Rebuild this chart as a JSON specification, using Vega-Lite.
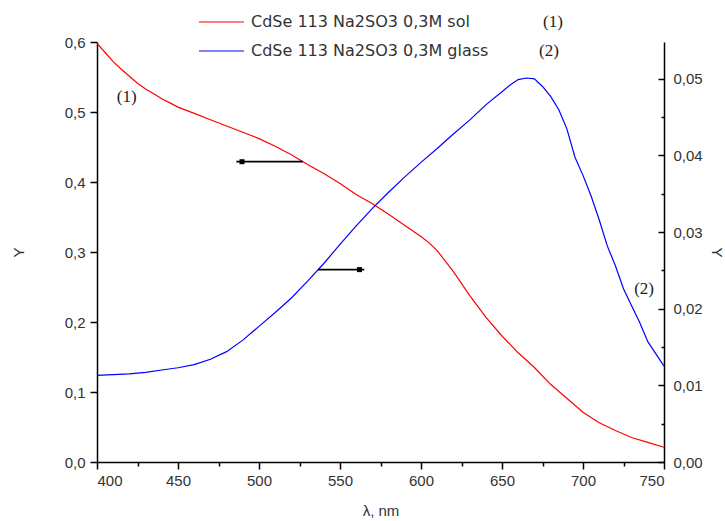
{
  "$schema": "https://vega.github.io/schema/vega-lite/v6.json",
  "width": 567,
  "height": 420,
  "autosize": "none",
  "padding": {"left": 97, "top": 42, "right": 61, "bottom": 59},
  "background": "white",
  "config": {
    "view": {"stroke": null},
    "font": "Liberation Sans",
    "axis": {
      "domainColor": "#000000",
      "domainWidth": 1.5,
      "tickColor": "#000000",
      "tickWidth": 1.5,
      "grid": false,
      "labelFont": "Liberation Sans",
      "labelFontSize": 15,
      "labelColor": "#333333",
      "titleFont": "Liberation Sans",
      "titleFontSize": 15,
      "titleFontWeight": "normal",
      "titleColor": "#333333"
    }
  },
  "datasets": {
    "curves": [
      {"nm": 400, "v": 0.598, "series": "CdSe 113 Na2SO3 0,3M sol"},
      {"nm": 405, "v": 0.585, "series": "CdSe 113 Na2SO3 0,3M sol"},
      {"nm": 410, "v": 0.572, "series": "CdSe 113 Na2SO3 0,3M sol"},
      {"nm": 415, "v": 0.561, "series": "CdSe 113 Na2SO3 0,3M sol"},
      {"nm": 420, "v": 0.551, "series": "CdSe 113 Na2SO3 0,3M sol"},
      {"nm": 425, "v": 0.541, "series": "CdSe 113 Na2SO3 0,3M sol"},
      {"nm": 430, "v": 0.533, "series": "CdSe 113 Na2SO3 0,3M sol"},
      {"nm": 435, "v": 0.526, "series": "CdSe 113 Na2SO3 0,3M sol"},
      {"nm": 440, "v": 0.519, "series": "CdSe 113 Na2SO3 0,3M sol"},
      {"nm": 445, "v": 0.513, "series": "CdSe 113 Na2SO3 0,3M sol"},
      {"nm": 450, "v": 0.507, "series": "CdSe 113 Na2SO3 0,3M sol"},
      {"nm": 460, "v": 0.498, "series": "CdSe 113 Na2SO3 0,3M sol"},
      {"nm": 470, "v": 0.489, "series": "CdSe 113 Na2SO3 0,3M sol"},
      {"nm": 480, "v": 0.480, "series": "CdSe 113 Na2SO3 0,3M sol"},
      {"nm": 490, "v": 0.471, "series": "CdSe 113 Na2SO3 0,3M sol"},
      {"nm": 500, "v": 0.462, "series": "CdSe 113 Na2SO3 0,3M sol"},
      {"nm": 510, "v": 0.451, "series": "CdSe 113 Na2SO3 0,3M sol"},
      {"nm": 520, "v": 0.439, "series": "CdSe 113 Na2SO3 0,3M sol"},
      {"nm": 530, "v": 0.425, "series": "CdSe 113 Na2SO3 0,3M sol"},
      {"nm": 540, "v": 0.412, "series": "CdSe 113 Na2SO3 0,3M sol"},
      {"nm": 550, "v": 0.398, "series": "CdSe 113 Na2SO3 0,3M sol"},
      {"nm": 560, "v": 0.382, "series": "CdSe 113 Na2SO3 0,3M sol"},
      {"nm": 570, "v": 0.369, "series": "CdSe 113 Na2SO3 0,3M sol"},
      {"nm": 580, "v": 0.354, "series": "CdSe 113 Na2SO3 0,3M sol"},
      {"nm": 590, "v": 0.338, "series": "CdSe 113 Na2SO3 0,3M sol"},
      {"nm": 600, "v": 0.322, "series": "CdSe 113 Na2SO3 0,3M sol"},
      {"nm": 605, "v": 0.313, "series": "CdSe 113 Na2SO3 0,3M sol"},
      {"nm": 610, "v": 0.302, "series": "CdSe 113 Na2SO3 0,3M sol"},
      {"nm": 620, "v": 0.272, "series": "CdSe 113 Na2SO3 0,3M sol"},
      {"nm": 630, "v": 0.238, "series": "CdSe 113 Na2SO3 0,3M sol"},
      {"nm": 640, "v": 0.207, "series": "CdSe 113 Na2SO3 0,3M sol"},
      {"nm": 650, "v": 0.180, "series": "CdSe 113 Na2SO3 0,3M sol"},
      {"nm": 660, "v": 0.156, "series": "CdSe 113 Na2SO3 0,3M sol"},
      {"nm": 670, "v": 0.135, "series": "CdSe 113 Na2SO3 0,3M sol"},
      {"nm": 680, "v": 0.111, "series": "CdSe 113 Na2SO3 0,3M sol"},
      {"nm": 690, "v": 0.091, "series": "CdSe 113 Na2SO3 0,3M sol"},
      {"nm": 700, "v": 0.071, "series": "CdSe 113 Na2SO3 0,3M sol"},
      {"nm": 710, "v": 0.056, "series": "CdSe 113 Na2SO3 0,3M sol"},
      {"nm": 720, "v": 0.045, "series": "CdSe 113 Na2SO3 0,3M sol"},
      {"nm": 730, "v": 0.035, "series": "CdSe 113 Na2SO3 0,3M sol"},
      {"nm": 740, "v": 0.028, "series": "CdSe 113 Na2SO3 0,3M sol"},
      {"nm": 750, "v": 0.021, "series": "CdSe 113 Na2SO3 0,3M sol"},
      {"nm": 400, "v": 0.0113, "series": "CdSe 113 Na2SO3 0,3M glass"},
      {"nm": 410, "v": 0.0114, "series": "CdSe 113 Na2SO3 0,3M glass"},
      {"nm": 420, "v": 0.0115, "series": "CdSe 113 Na2SO3 0,3M glass"},
      {"nm": 430, "v": 0.0117, "series": "CdSe 113 Na2SO3 0,3M glass"},
      {"nm": 440, "v": 0.0120, "series": "CdSe 113 Na2SO3 0,3M glass"},
      {"nm": 450, "v": 0.0123, "series": "CdSe 113 Na2SO3 0,3M glass"},
      {"nm": 460, "v": 0.0127, "series": "CdSe 113 Na2SO3 0,3M glass"},
      {"nm": 470, "v": 0.0134, "series": "CdSe 113 Na2SO3 0,3M glass"},
      {"nm": 480, "v": 0.0144, "series": "CdSe 113 Na2SO3 0,3M glass"},
      {"nm": 490, "v": 0.0159, "series": "CdSe 113 Na2SO3 0,3M glass"},
      {"nm": 500, "v": 0.0177, "series": "CdSe 113 Na2SO3 0,3M glass"},
      {"nm": 510, "v": 0.0195, "series": "CdSe 113 Na2SO3 0,3M glass"},
      {"nm": 520, "v": 0.0214, "series": "CdSe 113 Na2SO3 0,3M glass"},
      {"nm": 530, "v": 0.0236, "series": "CdSe 113 Na2SO3 0,3M glass"},
      {"nm": 540, "v": 0.0259, "series": "CdSe 113 Na2SO3 0,3M glass"},
      {"nm": 550, "v": 0.0284, "series": "CdSe 113 Na2SO3 0,3M glass"},
      {"nm": 560, "v": 0.0308, "series": "CdSe 113 Na2SO3 0,3M glass"},
      {"nm": 570, "v": 0.0331, "series": "CdSe 113 Na2SO3 0,3M glass"},
      {"nm": 580, "v": 0.0352, "series": "CdSe 113 Na2SO3 0,3M glass"},
      {"nm": 590, "v": 0.0372, "series": "CdSe 113 Na2SO3 0,3M glass"},
      {"nm": 600, "v": 0.0391, "series": "CdSe 113 Na2SO3 0,3M glass"},
      {"nm": 610, "v": 0.0409, "series": "CdSe 113 Na2SO3 0,3M glass"},
      {"nm": 620, "v": 0.0428, "series": "CdSe 113 Na2SO3 0,3M glass"},
      {"nm": 630, "v": 0.0446, "series": "CdSe 113 Na2SO3 0,3M glass"},
      {"nm": 640, "v": 0.0466, "series": "CdSe 113 Na2SO3 0,3M glass"},
      {"nm": 650, "v": 0.0483, "series": "CdSe 113 Na2SO3 0,3M glass"},
      {"nm": 655, "v": 0.0492, "series": "CdSe 113 Na2SO3 0,3M glass"},
      {"nm": 660, "v": 0.0499, "series": "CdSe 113 Na2SO3 0,3M glass"},
      {"nm": 665, "v": 0.0501, "series": "CdSe 113 Na2SO3 0,3M glass"},
      {"nm": 670, "v": 0.0500, "series": "CdSe 113 Na2SO3 0,3M glass"},
      {"nm": 675, "v": 0.0490, "series": "CdSe 113 Na2SO3 0,3M glass"},
      {"nm": 680, "v": 0.0477, "series": "CdSe 113 Na2SO3 0,3M glass"},
      {"nm": 685, "v": 0.0460, "series": "CdSe 113 Na2SO3 0,3M glass"},
      {"nm": 690, "v": 0.0435, "series": "CdSe 113 Na2SO3 0,3M glass"},
      {"nm": 695, "v": 0.0398, "series": "CdSe 113 Na2SO3 0,3M glass"},
      {"nm": 700, "v": 0.0374, "series": "CdSe 113 Na2SO3 0,3M glass"},
      {"nm": 705, "v": 0.0347, "series": "CdSe 113 Na2SO3 0,3M glass"},
      {"nm": 710, "v": 0.0316, "series": "CdSe 113 Na2SO3 0,3M glass"},
      {"nm": 715, "v": 0.0282, "series": "CdSe 113 Na2SO3 0,3M glass"},
      {"nm": 720, "v": 0.0256, "series": "CdSe 113 Na2SO3 0,3M glass"},
      {"nm": 725, "v": 0.0226, "series": "CdSe 113 Na2SO3 0,3M glass"},
      {"nm": 730, "v": 0.0204, "series": "CdSe 113 Na2SO3 0,3M glass"},
      {"nm": 735, "v": 0.0182, "series": "CdSe 113 Na2SO3 0,3M glass"},
      {"nm": 740, "v": 0.0157, "series": "CdSe 113 Na2SO3 0,3M glass"},
      {"nm": 745, "v": 0.0141, "series": "CdSe 113 Na2SO3 0,3M glass"},
      {"nm": 750, "v": 0.0125, "series": "CdSe 113 Na2SO3 0,3M glass"}
    ],
    "arrows": [
      {"side": "left", "x1": 486, "x2": 527, "y": 0.429, "sq": 489.5},
      {"side": "right", "x1": 536.5, "x2": 565, "y": 0.0251, "sq": 562}
    ],
    "notes": [
      {"side": "left", "nm": 418.3, "v": 0.522, "label": "(1)"},
      {"side": "left", "nm": 681.5, "v": 0.6286, "label": "(1)"},
      {"side": "left", "nm": 679, "v": 0.587, "label": "(2)"},
      {"side": "right", "nm": 737.7, "v": 0.02255, "label": "(2)"}
    ]
  },
  "layer": [
    {
      "layer": [
        {
          "data": {"name": "curves"},
          "transform": [{"filter": "datum.series === 'CdSe 113 Na2SO3 0,3M sol'"}],
          "mark": {"type": "line", "strokeWidth": 1.2},
          "encoding": {
            "x": {
              "field": "nm", "type": "quantitative", "title": "λ, nm",
              "scale": {"domain": [400, 750], "nice": false, "zero": false},
              "axis": {
                "values": [400, 425, 450, 475, 500, 525, 550, 575, 600, 625, 650, 675, 700, 725, 750],
                "labelExpr": "datum.value % 50 === 0 ? datum.label : ''",
                "tickSize": {"condition": {"test": "datum.value % 50 === 0", "value": 7}, "value": 4},
                "labelPadding": 4,
                "titlePadding": 15
              }
            },
            "y": {
              "field": "v", "type": "quantitative", "title": "Y",
              "scale": {"domain": [0, 0.6], "nice": false},
              "axis": {
                "orient": "left",
                "values": [0, 0.05, 0.1, 0.15, 0.2, 0.25, 0.3, 0.35, 0.4, 0.45, 0.5, 0.55, 0.6],
                "format": ".1f",
                "labelExpr": "abs(datum.value * 10 - round(datum.value * 10)) < 0.01 ? replace(datum.label, '.', ',') : ''",
                "tickSize": {"condition": {"test": "abs(datum.value * 10 - round(datum.value * 10)) < 0.01", "value": 7}, "value": 4},
                "labelPadding": 5,
                "titlePadding": 38
              }
            },
            "color": {
              "field": "series", "type": "nominal",
              "scale": {"domain": ["CdSe 113 Na2SO3 0,3M sol", "CdSe 113 Na2SO3 0,3M glass"], "range": ["#ff0000", "#0000ff"]},
              "legend": {
                "orient": "none",
                "legendX": 101,
                "legendY": -34.5,
                "title": null,
                "symbolType": "stroke",
                "symbolSize": 2025,
                "symbolStrokeWidth": 1.2,
                "labelOffset": 6,
                "labelLimit": 500,
                "labelFont": "DejaVu Sans",
                "labelFontSize": 16,
                "labelColor": "#333333",
                "rowPadding": 0,
                "clipHeight": 29,
                "padding": 0,
                "encode": {
                  "symbols": {
                    "update": {
                      "stroke": {"scale": "color", "field": "value"},
                      "strokeWidth": {"value": 1.2}
                    }
                  }
                }
              }
            }
          }
        },
        {
          "data": {"name": "arrows"},
          "transform": [{"filter": "datum.side === 'left'"}],
          "mark": {"type": "rule", "color": "#000000", "strokeWidth": 1.8},
          "encoding": {
            "x": {"field": "x1", "type": "quantitative", "title": "λ, nm"},
            "x2": {"field": "x2"},
            "y": {"field": "y", "type": "quantitative", "title": "Y"}
          }
        },
        {
          "data": {"name": "arrows"},
          "transform": [{"filter": "datum.side === 'left'"}],
          "mark": {"type": "point", "shape": "square", "filled": true, "color": "#000000", "size": 25, "opacity": 1},
          "encoding": {
            "x": {"field": "sq", "type": "quantitative", "title": "λ, nm"},
            "y": {"field": "y", "type": "quantitative", "title": "Y"}
          }
        },
        {
          "data": {"name": "notes"},
          "transform": [{"filter": "datum.side === 'left'"}],
          "mark": {"type": "text", "font": "Liberation Serif", "fontSize": 17, "color": "#222222", "align": "center", "baseline": "middle"},
          "encoding": {
            "x": {"field": "nm", "type": "quantitative", "title": "λ, nm"},
            "y": {"field": "v", "type": "quantitative", "title": "Y"},
            "text": {"field": "label"}
          }
        }
      ]
    },
    {
      "layer": [
        {
          "data": {"name": "curves"},
          "transform": [{"filter": "datum.series === 'CdSe 113 Na2SO3 0,3M glass'"}],
          "mark": {"type": "line", "strokeWidth": 1.2, "color": "#0000ff"},
          "encoding": {
            "x": {"field": "nm", "type": "quantitative", "title": "λ, nm"},
            "y": {
              "field": "v", "type": "quantitative", "title": "Y",
              "scale": {"domain": [0, 0.0548], "nice": false},
              "axis": {
                "orient": "right",
                "values": [0, 0.005, 0.01, 0.015, 0.02, 0.025, 0.03, 0.035, 0.04, 0.045, 0.05],
                "format": ".2f",
                "labelExpr": "abs(datum.value * 100 - round(datum.value * 100)) < 0.01 ? replace(datum.label, '.', ',') : ''",
                "tickSize": {"condition": {"test": "abs(datum.value * 100 - round(datum.value * 100)) < 0.01", "value": -6}, "value": -3},
                "labelPadding": 15,
                "titlePadding": 6,
                "titleAngle": 90
              }
            }
          }
        },
        {
          "data": {"name": "arrows"},
          "transform": [{"filter": "datum.side === 'right'"}],
          "mark": {"type": "rule", "color": "#000000", "strokeWidth": 1.8},
          "encoding": {
            "x": {"field": "x1", "type": "quantitative", "title": "λ, nm"},
            "x2": {"field": "x2"},
            "y": {"field": "y", "type": "quantitative", "title": "Y"}
          }
        },
        {
          "data": {"name": "arrows"},
          "transform": [{"filter": "datum.side === 'right'"}],
          "mark": {"type": "point", "shape": "square", "filled": true, "color": "#000000", "size": 25, "opacity": 1},
          "encoding": {
            "x": {"field": "sq", "type": "quantitative", "title": "λ, nm"},
            "y": {"field": "y", "type": "quantitative", "title": "Y"}
          }
        },
        {
          "data": {"name": "notes"},
          "transform": [{"filter": "datum.side === 'right'"}],
          "mark": {"type": "text", "font": "Liberation Serif", "fontSize": 17, "color": "#222222", "align": "center", "baseline": "middle"},
          "encoding": {
            "x": {"field": "nm", "type": "quantitative", "title": "λ, nm"},
            "y": {"field": "v", "type": "quantitative", "title": "Y"},
            "text": {"field": "label"}
          }
        }
      ]
    }
  ],
  "resolve": {"scale": {"y": "independent"}}
}
